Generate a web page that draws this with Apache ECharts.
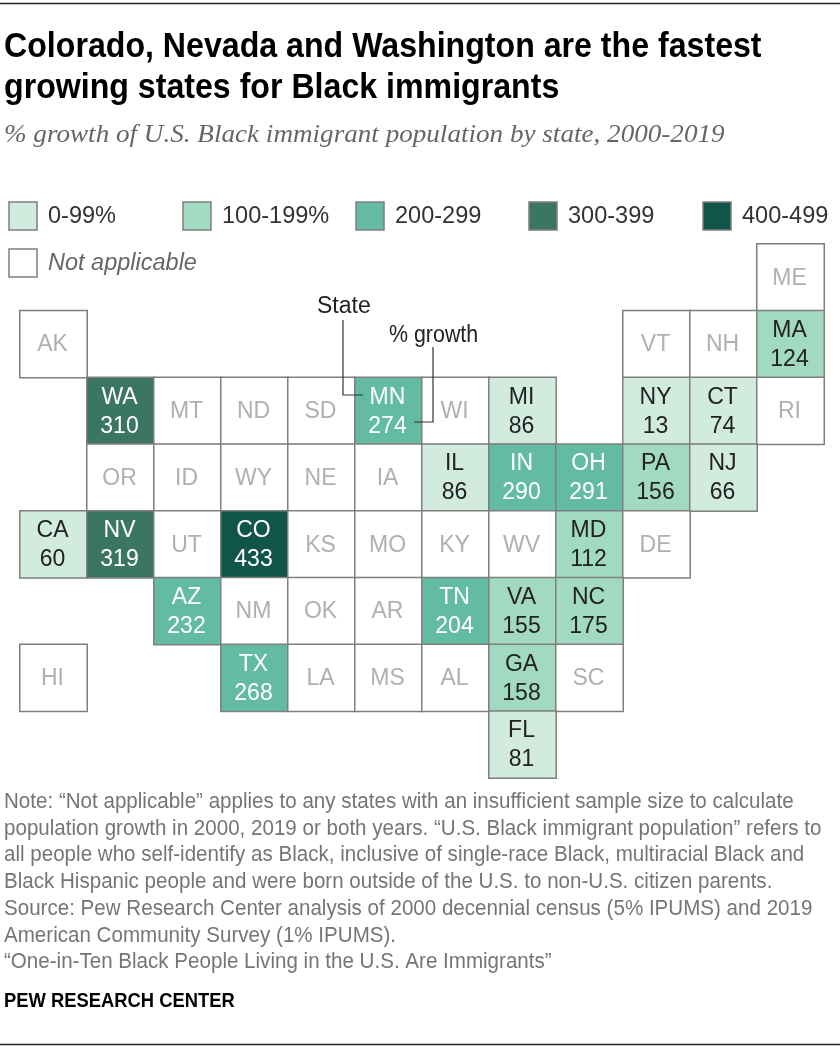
<!DOCTYPE html>
<html>
<head>
<meta charset="utf-8">
<title>Black immigrant growth by state</title>
<script src="https://cdn.jsdelivr.net/npm/echarts@6/dist/echarts.min.js"></script>
<style>
html, body { margin: 0; padding: 0; background: #fff; }
#chart { width: 840px; height: 1050px; }
</style>
</head>
<body>
<div id="chart"></div>
<script>
// tile map layout, one list per row, '' is an empty tile
var tileRow0 = ['', '', '', '', '', '', '', '', '', '', '', 'ME'];
var tileRow1 = ['AK', '', '', '', '', '', '', '', '', 'VT', 'NH', 'MA'];
var tileRow2 = ['', 'WA', 'MT', 'ND', 'SD', 'MN', 'WI', 'MI', '', 'NY', 'CT', 'RI'];
var tileRow3 = ['', 'OR', 'ID', 'WY', 'NE', 'IA', 'IL', 'IN', 'OH', 'PA', 'NJ', ''];
var tileRow4 = ['CA', 'NV', 'UT', 'CO', 'KS', 'MO', 'KY', 'WV', 'MD', 'DE', '', ''];
var tileRow5 = ['', '', 'AZ', 'NM', 'OK', 'AR', 'TN', 'VA', 'NC', '', '', ''];
var tileRow6 = ['HI', '', '', 'TX', 'LA', 'MS', 'AL', 'GA', 'SC', '', '', ''];
var tileRow7 = ['', '', '', '', '', '', '', 'FL', '', '', '', ''];

var states = ['MA', 'WA', 'MN', 'MI', 'NY', 'CT', 'IL', 'IN', 'OH', 'PA', 'NJ', 'CA', 'NV', 'CO', 'MD', 'AZ', 'TN', 'VA', 'NC', 'TX', 'GA', 'FL'];
var growth = [124, 310, 274, 86, 13, 74, 86, 290, 291, 156, 66, 60, 319, 433, 112, 232, 204, 155, 175, 268, 158, 81];

var binLabels = ['0-99%', '100-199%', '200-299', '300-399', '400-499'];
var binColors = ['#d2ebdf', '#a2d9c1', '#63bba3', '#3b7564', '#11544a'];
var noteLines = [
    'Note: \u201cNot applicable\u201d applies to any states with an insufficient sample size to calculate',
    'population growth in 2000, 2019 or both years. \u201cU.S. Black immigrant population\u201d refers to',
    'all people who self-identify as Black, inclusive of single-race Black, multiracial Black and',
    'Black Hispanic people and were born outside of the U.S. to non-U.S. citizen parents.',
    'Source: Pew Research Center analysis of 2000 decennial census (5% IPUMS) and 2019',
    'American Community Survey (1% IPUMS).',
    '\u201cOne-in-Ten Black People Living in the U.S. Are Immigrants\u201d'
];

var tileRows = [tileRow0, tileRow1, tileRow2, tileRow3, tileRow4, tileRow5, tileRow6, tileRow7];
var sansFont = '"Liberation Sans", sans-serif';
var serifFont = '"Liberation Serif", serif';

function binIndex(v) {
    return Math.min(Math.floor(v / 100), binColors.length - 1);
}

function buildCells() {
    var cells = [];
    tileRows.forEach(function (row, r) {
        row.forEach(function (code, c) {
            if (!code) return;
            var idx = states.indexOf(code);
            var v = idx >= 0 ? growth[idx] : null;
            var dark = v !== null && v >= 200;
            cells.push({
                name: code,
                value: [c, r, v === null ? 0 : v],
                itemStyle: { color: v === null ? '#fff' : binColors[binIndex(v)] },
                label: {
                    formatter: v === null ? code : code + '\n' + v,
                    color: v === null ? '#b0b0b0' : (dark ? '#fff' : '#222')
                }
            });
        });
    });
    return cells;
}

// no narrow font installed, so squeeze the sans with scaleX
function textEl(x, y, str, size, color, family, scaleX, extra) {
    var style = { x: 0, y: 0, text: str, fill: color, fontSize: size, fontFamily: family, textVerticalAlign: 'middle' };
    for (var k in extra) style[k] = extra[k];
    return { type: 'text', silent: true, z: 100, x: x, y: y, scaleX: scaleX, style: style };
}

function lineEl(points, color, width) {
    return { type: 'polyline', silent: true, z: 100, zlevel: 1, shape: { points: points }, style: { stroke: color, lineWidth: width, fill: null } };
}

function swatch(x, y, color) {
    return { type: 'rect', silent: true, z: 100, shape: { x: x, y: y, width: 28, height: 28 }, style: { fill: color, stroke: '#7f7f7f', lineWidth: 1.5 } };
}

function buildGraphic() {
    var els = [];
    els.push(lineEl([[0, 3.5], [840, 3.5]], '#222', 1.5));
    els.push(lineEl([[0, 1044.5], [840, 1044.5]], '#222', 1.5));
    els.push(textEl(4, 47, 'Colorado, Nevada and Washington are the fastest', 35, '#000', sansFont, 0.918, { fontWeight: 'bold' }));
    els.push(textEl(4, 88, 'growing states for Black immigrants', 35, '#000', sansFont, 0.918, { fontWeight: 'bold' }));
    els.push(textEl(4, 135, '% growth of U.S. Black immigrant population by state, 2000-2019', 26, '#666', serifFont, 1.043, { fontStyle: 'italic' }));

    var swatchX = [9, 183, 356, 529, 703];
    binLabels.forEach(function (label, i) {
        els.push(swatch(swatchX[i], 202, binColors[i]));
        els.push(textEl(swatchX[i] + 39, 216, label, 24, '#333', sansFont, 0.98));
    });
    els.push(swatch(9, 249, '#fff'));
    els.push(textEl(48, 263, 'Not applicable', 23.5, '#666', sansFont, 1, { fontStyle: 'italic' }));

    // callouts for how to read a tile
    els.push(textEl(317, 307, 'State', 23, '#222', sansFont, 1));
    els.push(textEl(389, 336, '% growth', 23, '#222', sansFont, 0.93));
    els.push(lineEl([[343, 320], [343, 395], [363, 395]], '#333', 1.2));
    els.push(lineEl([[433, 347], [433, 422], [414, 422]], '#333', 1.2));

    noteLines.forEach(function (line, i) {
        els.push(textEl(4, 802 + i * 26.7, line, 22, '#757575', sansFont, 0.935));
    });
    els.push(textEl(4, 1001, 'PEW RESEARCH CENTER', 21, '#000', sansFont, 0.875, { fontWeight: 'bold' }));
    return els;
}

var chart = echarts.init(document.getElementById('chart'));
var colNames = tileRow0.map(function (d, i) { return String(i); });
var rowNames = tileRows.map(function (d, i) { return String(i); });

chart.setOption({
    animation: false,
    backgroundColor: '#fff',
    grid: { left: 20, top: 244, width: 804, height: 534, containLabel: false },
    xAxis: { type: 'category', data: colNames, show: false },
    yAxis: { type: 'category', data: rowNames, inverse: true, show: false },
    series: [{
        type: 'heatmap',
        data: buildCells(),
        itemStyle: { borderColor: '#7f7f7f', borderWidth: 1.5 },
        label: { show: true, fontFamily: sansFont, fontSize: 23, lineHeight: 29, offset: [-1, 1] },
        emphasis: { disabled: true }
    }],
    graphic: { elements: buildGraphic() }
});
</script>
</body>
</html>
